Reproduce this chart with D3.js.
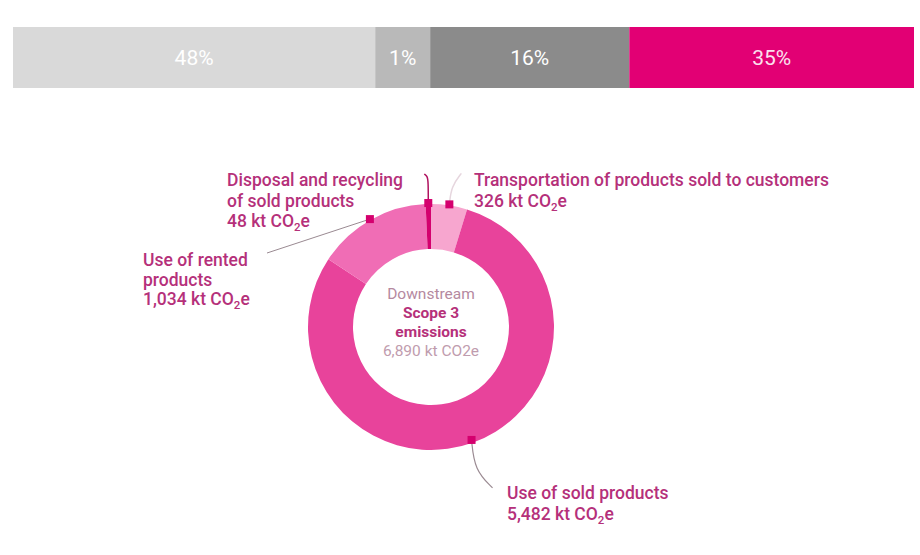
<!DOCTYPE html>
<html>
<head>
<meta charset="utf-8">
<title>Downstream Scope 3 emissions</title>
<script src="https://d3js.org/d3.v7.min.js"></script>
<style>
  body { margin: 0; background: #fff; }
  text { font-family: Roboto, "Liberation Sans", Arial, sans-serif; }
</style>
</head>
<body>
<div id="chart"></div>
<script>
// top bar: shares as printed, and the width each block takes in the picture
const barLabels = ["48%", "1%", "16%", "35%"];
const barShares = [48, 1, 16, 35];
const barSpans = [40.2, 6.1, 22.1, 31.6];
const barColors = ["#d9d9d9", "#b9b9b9", "#8b8b8b", "#e20074"];

// donut, clockwise from 12 o'clock
const sliceNames = ["Transportation of products sold to customers", "Use of sold products",
                    "Use of rented products", "Disposal and recycling of sold products"];
const sliceValues = [326, 5482, 1034, 48];
const sliceColors = ["#f7a6cf", "#e8439b", "#f06db5", "#d4006e"];
const totalLabel = "6,890 kt CO2e";

const W = 920, H = 555;
const svg = d3.select("#chart").append("svg").attr("width", W).attr("height", H);

// ---- stacked bar ----
const x = d3.scaleLinear().domain([0, d3.sum(barSpans)]).range([13, 914]);
let acc = 0;
const blocks = barSpans.map((v, i) => { const b = {x0: acc, x1: acc + v, i: i}; acc += v; return b; });

svg.selectAll("rect.bar").data(blocks).enter().append("rect")
  .attr("class", "bar")
  .attr("x", d => x(d.x0)).attr("y", 27)
  .attr("width", d => x(d.x1) - x(d.x0)).attr("height", 61)
  .attr("fill", d => barColors[d.i]);

svg.selectAll("text.bar").data(blocks).enter().append("text")
  .attr("class", "bar")
  .attr("x", d => (x(d.x0) + x(d.x1)) / 2).attr("y", 65)
  .attr("text-anchor", "middle")
  .attr("font-size", 21)
  .attr("fill", d => d.i == 3 ? "#fbe0ee" : "#ffffff")
  .text(d => barLabels[d.i]);

// ---- donut ----
const cx = 431, cy = 327, rOut = 123, rIn = 78;
const g = svg.append("g").attr("transform", `translate(${cx},${cy})`);
const pie = d3.pie().sort(null).value(d => d)(sliceValues);
const arc = d3.arc().innerRadius(rIn).outerRadius(rOut);

g.selectAll("path.slice").data(pie).enter().append("path")
  .attr("class", "slice")
  .attr("d", arc)
  .attr("fill", (d, i) => sliceColors[i]);

// marker at the outer edge, middle of each slice
const mid = d => (d.startAngle + d.endAngle) / 2;
const markerPos = (d, r) => [cx + r * Math.sin(mid(d)), cy - r * Math.cos(mid(d))];
const mk = pie.map((d, i) => markerPos(d, i == 1 ? 120 : 124));

const curve = d3.line().curve(d3.curveBasis);
const leaders = [
  {pts: [mk[0], [mk[0][0] + 2, mk[0][1] - 18], [mk[0][0] + 12, mk[0][1] - 31]], col: "#e6d6de", w: 1.5},
  {pts: [mk[1], [mk[1][0] + 3, mk[1][1] + 30], [mk[1][0] + 21, mk[1][1] + 48]], col: "#9a8a92", w: 1.2},
  {pts: [mk[2], [267, 253]], col: "#9a8a92", w: 1},
  {pts: [[mk[3][0], cy - rOut], [mk[3][0], cy - rOut - 22], [mk[3][0] - 1, cy - rOut - 28], [mk[3][0] - 4, cy - rOut - 30]], col: "#b0125f", w: 1.5}
];
svg.selectAll("path.leader").data(leaders).enter().append("path")
  .attr("class", "leader")
  .attr("d", d => curve(d.pts))
  .attr("fill", "none")
  .attr("stroke", d => d.col)
  .attr("stroke-width", d => d.w);

svg.selectAll("rect.marker").data(mk).enter().append("rect")
  .attr("class", "marker")
  .attr("x", d => d[0] - 4).attr("y", d => d[1] - 4)
  .attr("width", 8).attr("height", 8)
  .attr("fill", "#d4006e");

// ---- labels ----
const labelColor = "#b5307a";
function label(x0, y0, lines, value, dy) {
  const t = svg.append("text").attr("x", x0).attr("y", y0)
    .attr("font-size", 17.5).attr("font-weight", 500).attr("fill", labelColor);
  lines.forEach((s, k) => t.append("tspan").attr("x", x0).attr("dy", k ? dy : 0).text(s));
  const v = t.append("tspan").attr("x", x0).attr("dy", dy);
  v.append("tspan").text(d3.format(",")(value) + " kt CO");
  v.append("tspan").attr("font-size", 11.5).attr("dy", 4).text("2");
  v.append("tspan").attr("dy", -4).text("e");
}
label(474, 186, ["Transportation of products sold to customers"], sliceValues[0], 21);
label(507, 499, ["Use of sold products"], sliceValues[1], 21);
label(143, 266, ["Use of rented", "products"], sliceValues[2], 19.5);
label(227, 186, ["Disposal and recycling", "of sold products"], sliceValues[3], 20.5);

// centre text
const centre = [
  {s: "Downstream", y: 299, w: 400, c: "#b5899f"},
  {s: "Scope 3", y: 318, w: 700, c: "#b5307a"},
  {s: "emissions", y: 337, w: 700, c: "#b5307a"},
  {s: totalLabel, y: 356, w: 400, c: "#bf9cae"}
];
svg.selectAll("text.centre").data(centre).enter().append("text")
  .attr("class", "centre")
  .attr("x", cx).attr("y", d => d.y)
  .attr("text-anchor", "middle")
  .attr("font-size", 15.5)
  .attr("font-weight", d => d.w)
  .attr("fill", d => d.c)
  .text(d => d.s);
</script>
</body>
</html>
